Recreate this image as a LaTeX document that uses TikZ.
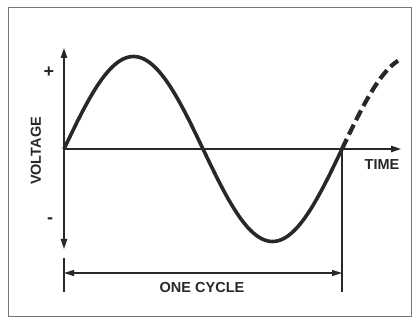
\documentclass[tikz,border=0pt]{standalone}
\usepackage{fontspec}
\setmainfont{Liberation Sans}
\usepackage{tikz}
\usetikzlibrary{arrows.meta, positioning, calc}
\definecolor{InkDark}{RGB}{40,40,40}
\definecolor{FrameGray}{RGB}{120,120,120}

\begin{document}
\begin{tikzpicture}[x=1pt,y=-1pt,
        lbl/.style={font=\bfseries\fontsize{14.5}{15}\selectfont,text=InkDark,inner sep=0pt},
        sgn/.style={font=\bfseries\fontsize{18}{18}\selectfont,text=InkDark,inner sep=0pt},
        axis/.style={-{Triangle[length=10pt,width=6.5pt]},InkDark,line width=1.3pt},
        dim/.style={{Triangle[length=10pt,width=6pt]}-{Triangle[length=10pt,width=6pt]},InkDark,line width=1.1pt},
        ext/.style={InkDark,line width=1.1pt},
        wave/.style={InkDark,line width=3.6pt},
        wavedash/.style={InkDark,line width=4.2pt,dash pattern=on 11pt off 5pt}
      ]
        \useasboundingbox (0,0) rectangle (412,320);
        \draw[FrameGray,line width=1pt] (8,8) rectangle (411,316);
        % axes
        \coordinate (o) at (64,149);
        \coordinate (vtop) at (64,48);
        \coordinate (vbot) at (64,249);
        \coordinate (tend) at (401,149);
        \draw[axis] (o)--(vtop); \draw[axis] (o)--(vbot);
        \draw[axis] (o)--(tend);
        % one cycle and the dashed start of the next
        \draw[wave] plot[domain=0:278,samples=120] ({64+\x},{149-92.5*sin(1.294964*\x)});
        \draw[wavedash] plot[domain=278:334,samples=40] ({64+\x},{149-92.5*sin(1.294964*\x)});
        % dimension line
        \coordinate (cycend) at (342,149);
        \coordinate (l1) at (64,258); \coordinate (l2) at (64,292);
        \coordinate (r2) at (342,292);
        \draw[ext] (l1)--(l2); \draw[ext] (cycend)--(r2);
        \coordinate (da) at (64,273); \coordinate (db) at (342,273);
        \draw[dim] (da)--(db);
        \node[lbl] (cyc) at (202,288) {ONE CYCLE};
        \node[lbl] (time) at (382,165) {TIME};
        \node[lbl,rotate=90] (volt) at (36,151) {VOLTAGE};
        \node[sgn] (plus) at (49,72) {+};
        \node[sgn] (minus) at (50,221) {-};
      \end{tikzpicture}
\end{document}
